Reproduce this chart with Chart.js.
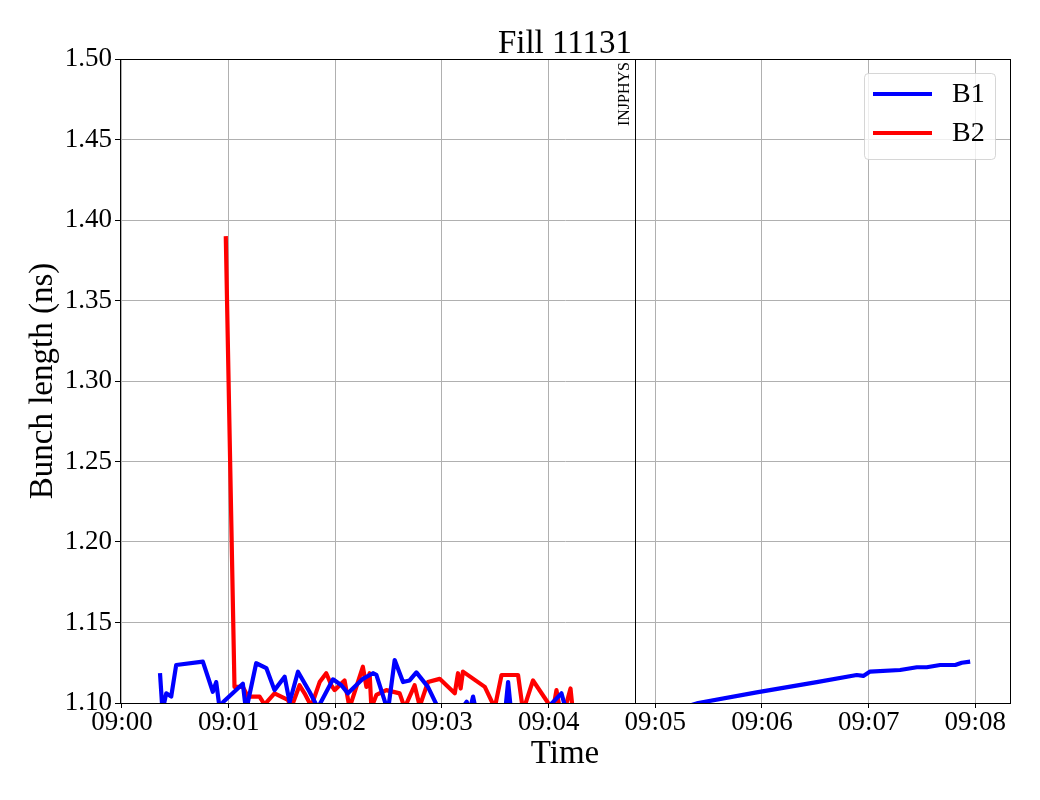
<!DOCTYPE html>
<html>
<head>
<meta charset="utf-8">
<title>Fill 11131</title>
<script src="https://cdn.jsdelivr.net/npm/chart.js@4.4.0/dist/chart.umd.min.js"></script>
<style>
  html, body { margin: 0; padding: 0; background: #fff; }
  #chart { display: block; }
</style>
</head>
<body>
<canvas id="chart" width="1040" height="800"></canvas>
<script>
// Time in seconds after 09:00:00, bunch length in ns
const fillTitle = 'Fill 11131';

const b1Time = [21.4, 22.8, 24.9, 27.7, 30.5, 45.5, 51.1, 53.0, 54.9, 57.1, 68.0, 69.8, 75.5, 81.2, 85.8,
  91.5, 94.3, 99.0, 105.5, 110.2, 118.7, 123.4, 127.1, 135.5, 141.2, 143.1, 149.6, 153.4, 158.1, 161.8,
  165.6, 172.1, 178.7, 187.2, 193.9, 195.5, 197.5, 200.1, 215.3, 217.2, 219.1, 235.0, 247.2, 250.0,
  280.0, 324.1, 357.0, 390.8, 413.3, 417.0, 420.8, 437.7, 447.1, 452.7, 460.2, 468.7, 472.4, 477.1];
const b1Length = [1.1186, 1.095, 1.106, 1.104, 1.1236, 1.1257, 1.107, 1.113, 1.097, 1.1008, 1.112, 1.095, 1.1247, 1.1217, 1.108,
  1.1163, 1.1005, 1.1194, 1.107, 1.097, 1.1147, 1.111, 1.106, 1.115, 1.1185, 1.1175, 1.095, 1.1267, 1.113, 1.114,
  1.119, 1.110, 1.095, 1.090, 1.1008, 1.095, 1.104, 1.090, 1.092, 1.113, 1.092, 1.092, 1.106, 1.095,
  1.085, 1.100, 1.1066, 1.113, 1.1174, 1.1168, 1.1195, 1.1205, 1.1222, 1.1222, 1.1236, 1.1236, 1.125, 1.1257];

const b2Time = [58.4, 63.3, 68.0, 70.8, 77.4, 80.2, 85.8, 93.3, 95.2, 99.9, 102.7, 106.5, 111.2, 114.9, 117.8,
  119.6, 125.2, 128.0, 135.5, 137.5, 139.3, 140.3, 143.1, 148.7, 156.2, 159.0, 164.6, 167.5, 172.1, 178.7,
  187.2, 189.0, 190.5, 191.8, 204.1, 209.7, 213.5, 222.8, 225.6, 231.2, 239.7, 242.5, 244.4, 246.3, 249.1,
  252.3, 253.6];
const b2Length = [1.390, 1.110, 1.110, 1.104, 1.104, 1.099, 1.106, 1.102, 1.097, 1.111, 1.106, 1.098, 1.113, 1.1185, 1.111,
  1.108, 1.114, 1.097, 1.1225, 1.110, 1.1185, 1.097, 1.105, 1.108, 1.106, 1.097, 1.111, 1.098, 1.113, 1.115,
  1.106, 1.1185, 1.109, 1.1195, 1.110, 1.097, 1.1174, 1.1174, 1.095, 1.114, 1.100, 1.096, 1.108, 1.096, 1.096,
  1.109, 1.095];

const xTicks = [0, 60, 120, 180, 240, 300, 360, 420, 480];
const xRange = [-1.1, 499.5];
const yRange = [1.10, 1.50];

// beam mode change marker
const eventTime = 288.3;
const eventLabel = 'INJPHYS';

const serif = '"Liberation Serif", "DejaVu Serif", serif';

function toPoints(times, values) {
  return times.map((t, i) => ({ x: t, y: values[i] }));
}

function fmtTime(sec) {
  const m = Math.floor(sec / 60);
  return '09:' + String(m).padStart(2, '0');
}

// frame, event marker, title and legend drawn on top
const overlay = {
  id: 'overlay',
  afterDatasetsDraw(chart) {
    const { ctx, chartArea: a, scales } = chart;
    ctx.save();
    // event line + label
    const ex = Math.round(scales.x.getPixelForValue(eventTime)) + 0.5;
    ctx.strokeStyle = '#000';
    ctx.lineWidth = 1;
    ctx.beginPath();
    ctx.moveTo(ex, a.top);
    ctx.lineTo(ex, a.bottom);
    ctx.stroke();
    ctx.translate(ex - 7, a.top + 3);
    ctx.rotate(-Math.PI / 2);
    ctx.font = '16px ' + serif;
    ctx.fillStyle = '#000';
    ctx.textAlign = 'right';
    ctx.textBaseline = 'alphabetic';
    ctx.fillText(eventLabel, 0, 0);
    ctx.restore();

    // axes frame
    ctx.save();
    ctx.strokeStyle = '#000';
    ctx.lineWidth = 1;
    ctx.strokeRect(Math.round(a.left) + 0.5, Math.round(a.top) + 0.5,
      Math.round(a.right - a.left), Math.round(a.bottom - a.top));
    ctx.restore();
  },
  afterDraw(chart) {
    const { ctx, chartArea: a } = chart;
    ctx.save();
    ctx.fillStyle = '#000';
    ctx.font = '33px ' + serif;
    ctx.textAlign = 'center';
    ctx.textBaseline = 'alphabetic';
    ctx.fillText(fillTitle, (a.left + a.right) / 2, 53);

    // legend box
    const bx = 864.5, by = 73.5, bw = 131, bh = 86, r = 4;
    ctx.beginPath();
    ctx.roundRect(bx, by, bw, bh, r);
    ctx.fillStyle = 'rgba(255,255,255,0.8)';
    ctx.fill();
    ctx.strokeStyle = 'rgba(204,204,204,0.8)';
    ctx.lineWidth = 1;
    ctx.stroke();
    ctx.font = '28px ' + serif;
    ctx.textAlign = 'left';
    ctx.textBaseline = 'middle';
    chart.data.datasets.forEach((ds, i) => {
      const y = 94 + i * 39;
      ctx.strokeStyle = ds.borderColor;
      ctx.lineWidth = 4;
      ctx.beginPath();
      ctx.moveTo(873, y);
      ctx.lineTo(932, y);
      ctx.stroke();
      ctx.fillStyle = '#000';
      ctx.fillText(ds.label, 952, y + 1);
    });
    ctx.restore();
  }
};

const lineStyle = {
  borderWidth: 4.2,
  pointRadius: 0,
  tension: 0,
  borderJoinStyle: 'round',
  clip: 0
};

new Chart(document.getElementById('chart'), {
  type: 'line',
  data: {
    datasets: [
      { label: 'B1', data: toPoints(b1Time, b1Length), borderColor: '#0000ff', ...lineStyle },
      { label: 'B2', data: toPoints(b2Time, b2Length), borderColor: '#ff0000', ...lineStyle }
    ]
  },
  options: {
    responsive: false,
    animation: false,
    devicePixelRatio: 1,
    layout: { padding: { left: 0, right: 30, top: 59, bottom: 0 } },
    plugins: {
      legend: { display: false },
      tooltip: { enabled: false }
    },
    scales: {
      x: {
        type: 'linear',
        min: xRange[0],
        max: xRange[1],
        afterBuildTicks: s => { s.ticks = xTicks.map(v => ({ value: v })); },
        afterFit: s => { s.height = 97; },
        ticks: {
          autoSkip: false,
          maxRotation: 0,
          padding: 1,
          color: '#000',
          font: { family: serif, size: 27, lineHeight: 1 },
          callback: v => fmtTime(v)
        },
        grid: { color: '#b0b0b0', lineWidth: 1, tickLength: 5, tickColor: '#000' },
        border: { color: '#000', width: 1 },
        title: {
          display: true,
          text: 'Time',
          color: '#000',
          font: { family: serif, size: 33 },
          padding: { top: 0, bottom: 26 }
        }
      },
      y: {
        min: yRange[0],
        max: yRange[1],
        afterFit: s => { s.width = 120; },
        ticks: {
          stepSize: 0.05,
          padding: 3,
          color: '#000',
          font: { family: serif, size: 27, lineHeight: 1 },
          callback: v => v.toFixed(2)
        },
        grid: { color: '#b0b0b0', lineWidth: 1, tickLength: 5, tickColor: '#000' },
        border: { color: '#000', width: 1 },
        title: {
          display: true,
          text: 'Bunch length (ns)',
          color: '#000',
          font: { family: serif, size: 33 },
          padding: { top: 24, bottom: 0 }
        }
      }
    }
  },
  plugins: [overlay]
});
</script>
</body>
</html>
